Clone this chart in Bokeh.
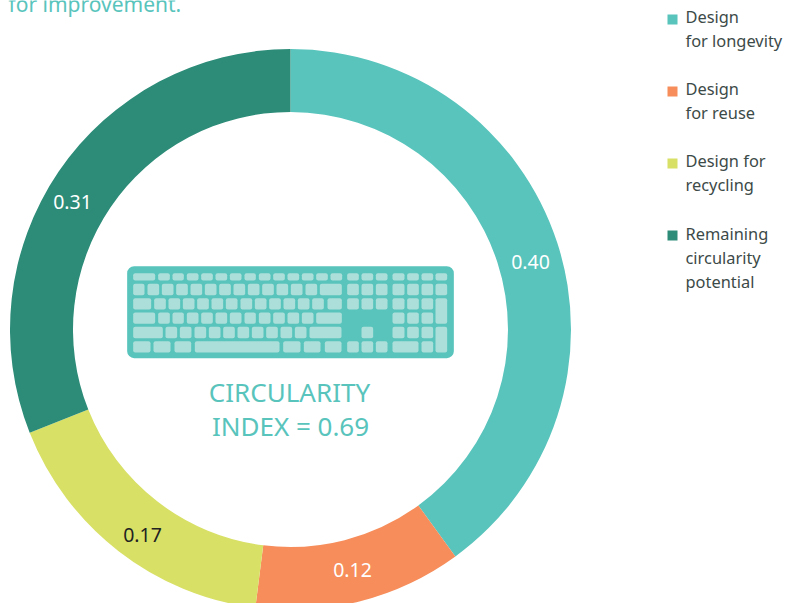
from bokeh.plotting import figure
from bokeh.embed import file_html
from bokeh.resources import INLINE
from bokeh.core.properties import value
from bokeh.models import Range1d
import math

W, H = 795, 603

# Data
segments = ["Design for longevity", "Design for reuse", "Design for recycling", "Remaining circularity potential"]
values = [0.40, 0.12, 0.17, 0.31]
labels = ["0.40", "0.12", "0.17", "0.31"]
colors = ["#58C4BC", "#F68D5A", "#D8E066", "#2C8C78"]
label_colors = ["#FFFFFF", "#FFFFFF", "#222222", "#FFFFFF"]
legend_lines = [["Design", "for longevity"], ["Design", "for reuse"], ["Design for", "recycling"],
                ["Remaining", "circularity", "potential"]]
center_lines = ["CIRCULARITY", "INDEX = 0.69"]
title_fragment = "for improvement."

# Layout (page pixels, y downwards)
CX, CY, R_OUT, R_IN = 290, 329, 280.5, 217.5
label_xy = [(530, 261), (352, 569), (142, 534), (72, 201)]
legend_sq_x, legend_tx_x = 672, 685
legend_sq_y = [19, 91, 163, 235]
legend_tx_y = [[16, 40], [88, 112], [160, 184], [233, 257, 281]]
FONT = "Noto Sans"

p = figure(width=W, height=H, output_backend="svg", toolbar_location=None,
           x_range=Range1d(0, W), y_range=Range1d(0, H), min_border=0,
           margin=(0, 0, 0, 0), background_fill_color="white", border_fill_color="white")
p.axis.visible = False
p.grid.visible = False
p.outline_line_color = None

yy = lambda y: H - y

# Donut, clockwise from the top
cum = 0.0
starts, ends = [], []
for v in values:
    starts.append(math.pi / 2 - cum * 2 * math.pi)
    cum += v
    ends.append(math.pi / 2 - cum * 2 * math.pi)
p.annular_wedge(x=[CX] * 4, y=[yy(CY)] * 4, inner_radius=R_IN, outer_radius=R_OUT,
                start_angle=starts, end_angle=ends, direction="clock",
                fill_color=colors, line_color=None)

p.text(x=[q[0] for q in label_xy], y=[yy(q[1]) for q in label_xy], text=labels,
       text_color=label_colors, text_font=value(FONT), text_font_size="19.5px",
       text_align="center", text_baseline="middle")

# Keyboard icon: key spans in icon units (3 units = 1 px)
kx = lambda u: 110 + u / 3
ky = lambda u: 250 + u / 3
p.rect(x=[(kx(50) + kx(1030)) / 2], y=[yy((ky(47) + ky(323)) / 2)], width=(1030 - 50) / 3, height=(323 - 47) / 3,
       fill_color="#58C4BC", line_color=None, border_radius=7)

rows_y = [(68, 90), (100, 134), (143, 177), (186, 220), (229, 263), (272, 306)]
unit = [(143, 178), (186, 220), (229, 264), (272, 307), (315, 350), (358, 393), (402, 436), (445, 480), (488, 523),
        (531, 566), (574, 609), (617, 652), (660, 695)]
nav = [(710, 745), (753, 788), (796, 831)]
pad = [(846, 882), (890, 925), (933, 968)]
pad4 = pad + [(975, 1010)]
row2 = [(68, 102), (111, 146), (154, 189), (197, 232), (240, 275), (283, 318), (326, 361), (369, 404), (412, 447),
        (455, 490), (498, 533), (541, 576), (585, 620), (628, 694)]
row3 = [(68, 122), (131, 166), (174, 209), (217, 252), (260, 295), (303, 338), (346, 381), (390, 425), (433, 468),
        (476, 511), (519, 554), (562, 597), (605, 640), (651, 694)]
row5 = [(68, 157), (165, 200), (208, 243), (252, 287), (295, 330), (338, 373), (381, 416), (424, 459), (467, 502),
        (510, 545), (553, 588), (597, 693)]
row6 = [(68, 120), (129, 180), (192, 242), (253, 507), (518, 570), (580, 630), (643, 693)]
keys = [
    ([(68, 134)] + unit + nav + pad4),
    (row2 + nav + pad4),
    (row3 + nav + pad),
    ([(68, 134)] + unit[:11] + [(617, 694)] + pad),
    (row5 + [(753, 788)] + pad),
    (row6 + nav + [(846, 924), (933, 968)]),
]
kl, kr, kt, kb = [], [], [], []
for (t, b), row in zip(rows_y, keys):
    for (a, c) in row:
        kl.append(kx(a)); kr.append(kx(c)); kt.append(yy(ky(t))); kb.append(yy(ky(b)))
for (a, c, t, b) in [(975, 1010, 143, 220), (975, 1010, 229, 306)]:
    kl.append(kx(a)); kr.append(kx(c)); kt.append(yy(ky(t))); kb.append(yy(ky(b)))
p.quad(left=kl, right=kr, top=kt, bottom=kb, fill_color="#ACDFD9", line_color=None, border_radius=2)

# Centre text
p.text(x=[CX - 1, CX], y=[yy(391), yy(425)], text=center_lines, text_color="#58C4BC",
       text_font=value(FONT), text_font_size="26px", text_align="center", text_baseline="middle")

# Cut-off title fragment (the reference crops it at the top edge)
p.text(x=[8], y=[yy(3)], text=[title_fragment], text_color="#58C4BC",
       text_font=value(FONT), text_font_size="21px", text_align="left", text_baseline="middle")

# Legend
p.rect(x=[legend_sq_x] * 4, y=[yy(v) for v in legend_sq_y], width=10, height=10,
       fill_color=colors, line_color=None)
tx, ty, tt = [], [], []
for lines, ys in zip(legend_lines, legend_tx_y):
    for s, y in zip(lines, ys):
        tx.append(legend_tx_x); ty.append(yy(y)); tt.append(s)
p.text(x=tx, y=ty, text=tt, text_color="#3C4A48", text_font=value(FONT), text_font_size="16.4px",
       text_align="left", text_baseline="middle")

open("out.html", "w").write(file_html(p, INLINE))
